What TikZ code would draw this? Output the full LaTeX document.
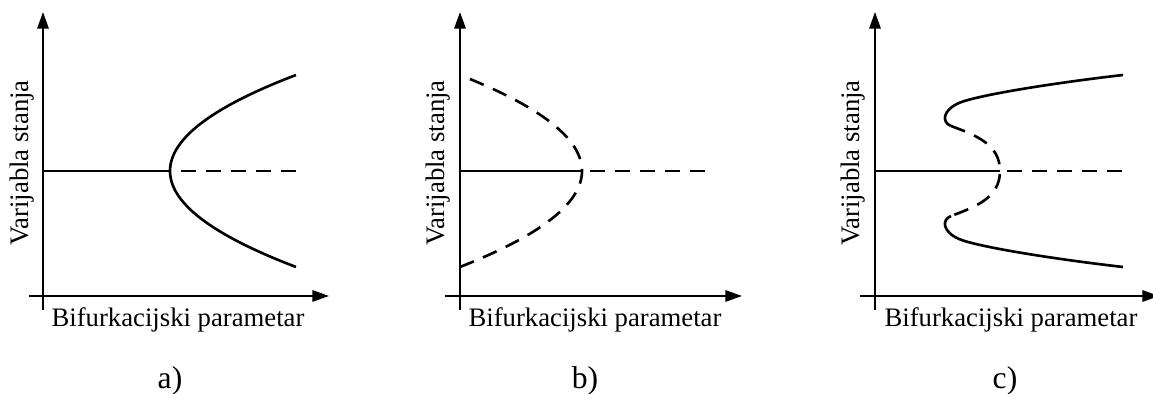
\documentclass[tikz,border=0pt]{standalone}
\usepackage{fontspec}
\setmainfont{Liberation Serif}
\usetikzlibrary{arrows.meta}

\begin{document}
\begin{tikzpicture}[x=0.02cm,y=0.02cm,
  axis/.style={line width=1.1pt,-{Triangle[length=9.5pt,width=6.5pt]}},
  branch/.style={line width=1.5pt},
  unstable/.style={line width=1.5pt,dash pattern=on 8.5pt off 5.7pt},
  lab/.style={font=\fontsize{15.2}{18}\selectfont,inner sep=0pt},
  caplab/.style={font=\fontsize{18}{21}\selectfont,inner sep=0pt}]

\useasboundingbox (0,0) rectangle (1153,394);

% a) parabola opening to the right
\begin{scope}[shift={(43,98)}]
% Axes
\draw[axis] (0,-14)--(0,284);
\draw[axis] (-14,0)--(286,0);
\node[lab,rotate=90] (ylabA) at (-21,133) {Varijabla stanja};
\node[lab] (xlabA) at (135,-24) {Bifurkacijski parametar};
\node[caplab] (capA) at (127,-85) {a)};

% Branches
\draw[branch] (0,125)--(127,125);
\draw[unstable] (138,125)--(253,125);
\draw[branch,domain=-96:96,samples=60,smooth,variable=\t]
  plot ({127+0.01367*\t*\t},{125+\t});
\end{scope}

% b) parabola opening to the left
\begin{scope}[shift={(460,98)}]
% Axes
\draw[axis] (0,-14)--(0,284);
\draw[axis] (-15,0)--(282,0);
\node[lab,rotate=90] (ylabB) at (-22,133) {Varijabla stanja};
\node[lab] (xlabB) at (135,-24) {Bifurkacijski parametar};
\node[caplab] (capB) at (125,-85) {b)};

% Branches
\draw[branch] (0,125)--(122,125);
\draw[unstable] (130,125)--(248,125);
\draw[unstable,domain=-96:96,samples=60,smooth,variable=\t]
  plot ({122-0.01324*\t*\t},{125+\t});
\end{scope}

% c) folded branches
\begin{scope}[shift={(875,98)}]
% Axes
\draw[axis] (0,-14)--(0,284);
\draw[axis] (-15,0)--(284,0);
\node[lab,rotate=90] (ylabC) at (-22,133) {Varijabla stanja};
\node[lab] (xlabC) at (136,-24) {Bifurkacijski parametar};
\node[caplab] (capC) at (130,-85) {c)};

% Branches
\draw[branch] (0,125)--(125,125);
\draw[unstable] (132,125)--(248,125);
\draw[branch] (248,221) .. controls (170,212) and (100,200) .. (84,193)
  .. controls (68,186) and (66,174) .. (76,170);
\draw[unstable] (76,170) .. controls (100,161) and (125,152) .. (125,125)
  .. controls (125,98) and (100,89) .. (76,80);
\draw[branch] (76,80) .. controls (66,76) and (68,64) .. (84,57)
  .. controls (100,50) and (170,38) .. (248,29);
\end{scope}

\end{tikzpicture}
\end{document}
